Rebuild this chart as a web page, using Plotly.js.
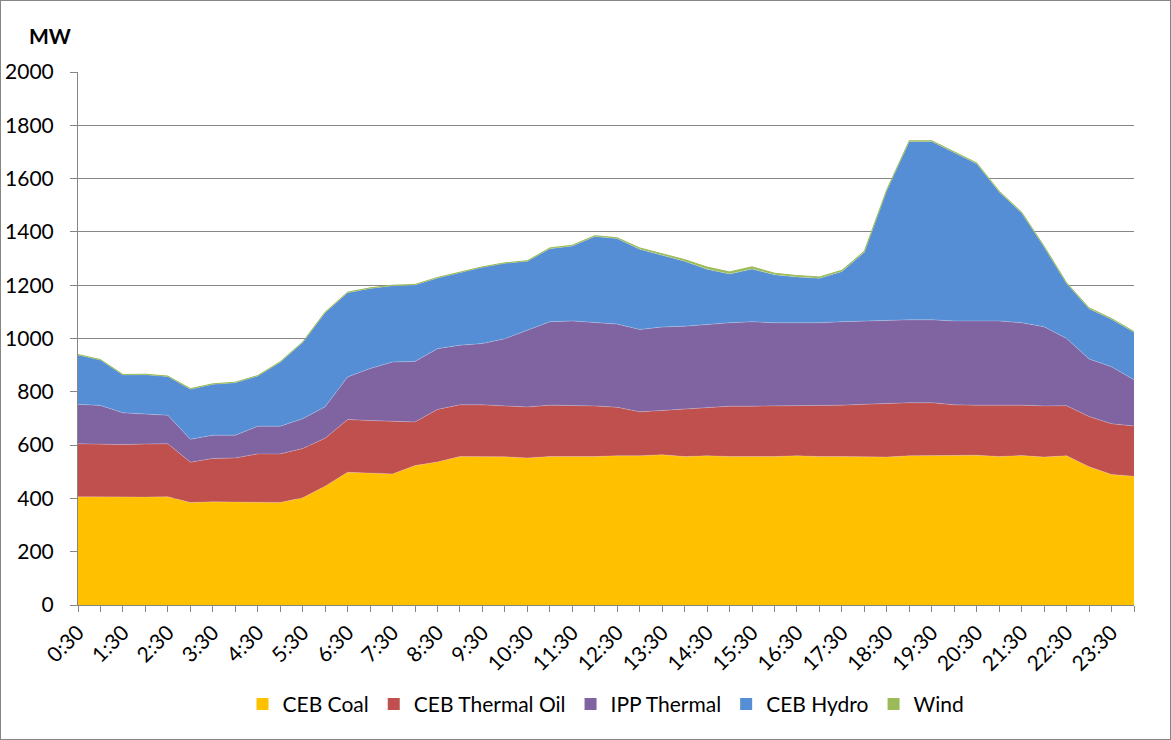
<!DOCTYPE html>
<html>
<head>
<meta charset="utf-8">
<script src="https://cdn.plot.ly/plotly-3.0.1.min.js"></script>
<style>
html,body{margin:0;padding:0;background:#fff;}
#wrap{position:relative;width:1171px;height:740px;}
#chart{width:1171px;height:740px;}
#frame{position:absolute;left:0;top:0;width:1169px;height:738px;border:1px solid #868686;pointer-events:none;}
</style>
</head>
<body>
<div id="wrap"><div id="chart"></div><div id="frame"></div></div>
<script>
const times = ["0:30","1:00","1:30","2:00","2:30","3:00","3:30","4:00","4:30","5:00","5:30","6:00",
"6:30","7:00","7:30","8:00","8:30","9:00","9:30","10:00","10:30","11:00","11:30","12:00",
"12:30","13:00","13:30","14:00","14:30","15:00","15:30","16:00","16:30","17:00","17:30","18:00",
"18:30","19:00","19:30","20:00","20:30","21:00","21:30","22:00","22:30","23:00","23:30","24:00"];

const cebCoal = [406,405,404,405,406,385,387,386,385,385,402,446,498,495,492,523,537,557,557,556,552,557,557,557,
560,560,564,557,560,557,557,557,560,557,557,555,555,560,560,561,562,557,561,555,560,519,490,483];

const cebThermalOil = [199,199,198,199,199,151,163,166,182,182,185,180,198,197,198,164,197,194,194,191,191,193,192,190,
182,165,166,179,180,189,189,190,187,191,193,198,201,199,199,190,188,193,189,192,188,188,190,189];

const ippThermal = [148,145,119,112,107,86,87,85,104,104,112,118,160,195,222,227,228,224,230,252,287,313,317,313,
312,309,313,310,313,313,317,312,312,311,313,313,313,311,311,315,316,316,309,297,252,216,214,173];

const cebHydro = [185,170,142,148,145,188,191,197,188,240,286,353,316,301,286,287,265,272,286,283,260,274,281,323,
321,301,270,244,207,183,198,180,172,167,188,258,487,669,669,630,590,484,412,299,206,189,178,178];

const wind = [2,2,2,2,2,2,2,2,2,2,2,2,2,2,2,2,2,2,2,2,2,3,3,3,
3,5,6,6,8,8,8,6,5,5,5,4,3,3,3,3,3,3,3,3,3,3,3,3];

const seriesNames = ["CEB Coal","CEB Thermal Oil","IPP Thermal","CEB Hydro","Wind"];
const seriesData = [cebCoal, cebThermalOil, ippThermal, cebHydro, wind];
const seriesColors = ["#FFC000","#C0504D","#8064A2","#558ED5","#9BBB59"];

const tickText = times.map((t,i)=> i%2===0 ? t : "");

const areaTraces = seriesData.map((d,k)=>({
  type:"scatter",
  mode:"lines",
  x: times,
  y: d,
  name: seriesNames[k],
  stackgroup:"one",
  fillcolor: seriesColors[k],
  line:{color: k===4 ? seriesColors[k] : "rgba(255,255,255,0.35)", width: k===4 ? 1 : 0.6},
  showlegend:false,
  hoverinfo:"x+y+name"
}));

const legendTraces = seriesNames.map((n,k)=>({
  type:"scatter",
  mode:"markers",
  x:[null], y:[null],
  name:n,
  marker:{symbol:"square", size:14, color:seriesColors[k], line:{width:0}},
  showlegend:true,
  hoverinfo:"skip"
}));

const font = "Lato, 'Open Sans', sans-serif";

const layout = {
  width:1171, height:740,
  margin:{l:78, r:37, t:72, b:135, pad:0},
  paper_bgcolor:"#ffffff",
  plot_bgcolor:"#ffffff",
  font:{family:font, size:21, color:"#000"},
  showlegend:true,
  legend:{orientation:"h", x:0.5, xanchor:"center", y:-0.148, yanchor:"top",
    traceorder:"normal", font:{family:font, size:21, color:"#000"},
    itemwidth:30, itemsizing:"constant", bgcolor:"rgba(0,0,0,0)"},
  xaxis:{
    type:"category",
    range:[0, times.length-1],
    tickmode:"array",
    tickvals: times,
    ticktext: tickText,
    tickangle:-45,
    ticks:"outside", ticklen:6, tickcolor:"#868686", tickwidth:1,
    showline:true, linecolor:"#868686", linewidth:1,
    showgrid:false, zeroline:false,
    tickfont:{family:font, size:21, color:"#000"}
  },
  yaxis:{
    range:[0,2000], dtick:200, tick0:0,
    ticks:"outside", ticklen:7, tickcolor:"#868686", tickwidth:1,
    ticklabelstandoff:12,
    showline:true, linecolor:"#868686", linewidth:1,
    showgrid:true, gridcolor:"#868686", gridwidth:1,
    zeroline:false,
    tickfont:{family:font, size:21, color:"#000"}
  },
  annotations:[{
    text:"<b>MW</b>", xref:"paper", yref:"paper",
    x:-0.048, y:1.069, xanchor:"left", yanchor:"middle",
    showarrow:false, font:{family:font, size:21, color:"#000"}
  }]
};

Plotly.newPlot("chart", areaTraces.concat(legendTraces), layout, {displayModeBar:false, staticPlot:true});
</script>
</body>
</html>
